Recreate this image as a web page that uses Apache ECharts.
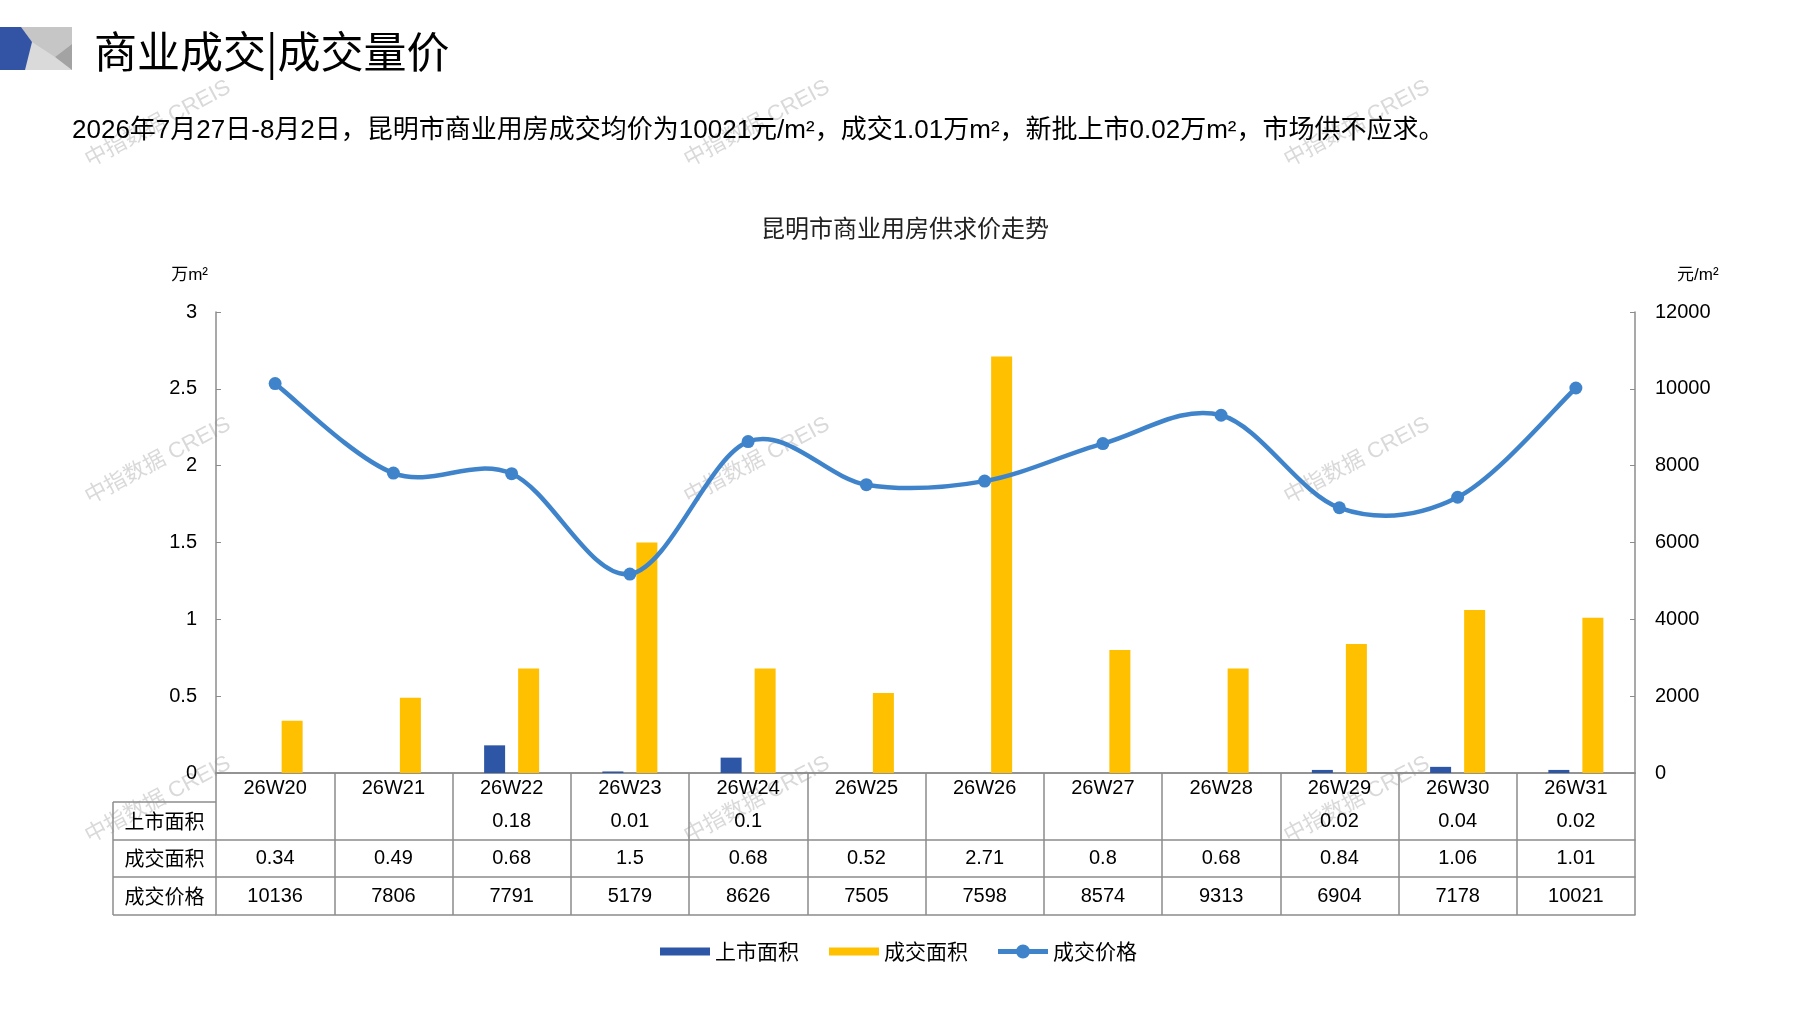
<!DOCTYPE html>
<html>
<head>
<meta charset="utf-8">
<script src="https://cdn.jsdelivr.net/npm/echarts@6/dist/echarts.min.js"></script>
<style>
html,body{margin:0;padding:0;background:#fff;}
#c{width:1797px;height:1010px;}
</style>
</head>
<body>
<div id="c"></div>
<script>
// ---- data ----
var categories = ['26W20','26W21','26W22','26W23','26W24','26W25','26W26','26W27','26W28','26W29','26W30','26W31'];
var supplyArea = [null, null, 0.18, 0.01, 0.1, null, null, null, null, 0.02, 0.04, 0.02];
var dealArea = [0.34, 0.49, 0.68, 1.5, 0.68, 0.52, 2.71, 0.8, 0.68, 0.84, 1.06, 1.01];
var dealPrice = [10136, 7806, 7791, 5179, 8626, 7505, 7598, 8574, 9313, 6904, 7178, 10021];
var seriesNames = ['上市面积', '成交面积', '成交价格'];
var leftTicks = [0, 0.5, 1, 1.5, 2, 2.5, 3];
var rightTicks = [0, 2000, 4000, 6000, 8000, 10000, 12000];

// ---- layout ----
var G = {left: 216, right: 162, top: 312, bottom: 237};
var H0 = 773, rowY = [802, 840, 877, 915], tableLeft = 113;
var NUM = "'Liberation Sans Narrow','Arial Narrow','Liberation Sans','Noto Sans CJK SC',sans-serif";
var CJK = "'Noto Sans CJK SC',sans-serif";
var lineColor = '#8C8C8C';
var priceColor = '#3F84CB';

function fmtRow(arr){ return function(v, i){ var x = arr[i]; return (x === null || x === undefined) ? '' : String(x); }; }

var chart = echarts.init(document.getElementById('c'), null, {renderer: 'canvas'});

function rowAxis(offset, margin, arr, showLabel){
  return {
    type: 'category', data: categories, gridIndex: 0, position: 'bottom', offset: offset,
    axisLine: {show: true, lineStyle: {color: lineColor, width: 1.5}},
    axisTick: {show: false}, splitLine: {show: false},
    axisLabel: {show: showLabel, interval: 0, margin: margin, fontSize: 20, color: '#000', fontFamily: NUM,
      formatter: arr ? fmtRow(arr) : undefined}
  };
}

var wm = [];
[[158,124],[757,124],[1357,124],[158,461],[757,461],[1357,461],[158,800],[757,800],[1357,800]].forEach(function(p){
  wm.push({type:'text', x:p[0], y:p[1], rotation:0.49, z:0, silent:true,
    style:{text:'中指数据 CREIS', fontSize:22, fontFamily:"'Liberation Sans','Noto Sans CJK SC',sans-serif",
      fill:'rgba(170,170,170,0.45)', align:'center', verticalAlign:'middle'}});
});

var tableGraphics = [];
rowY.forEach(function(y){
  tableGraphics.push({type:'line', silent:true, shape:{x1:tableLeft, y1:y, x2:G.left, y2:y}, style:{stroke:lineColor, lineWidth:1.5}});
});
tableGraphics.push({type:'line', silent:true, shape:{x1:tableLeft, y1:rowY[0], x2:tableLeft, y2:rowY[3]}, style:{stroke:lineColor, lineWidth:1.5}});
seriesNames.forEach(function(n, i){
  tableGraphics.push({type:'text', silent:true, x:(tableLeft+G.left)/2, y:(rowY[i]+rowY[i+1])/2,
    style:{text:n, fontSize:20, fontFamily:CJK, fill:'#000', align:'center', verticalAlign:'middle'}});
});

// smooth curve (Catmull-Rom style, like spreadsheet smoothing) drawn through the axes
function renderSegment(params, api){
  var i = params.dataIndex, n = dealPrice.length;
  if (i >= n - 1) return null;
  var i0 = Math.max(i - 1, 0), i3 = Math.min(i + 2, n - 1);
  var p0 = api.coord([i0, dealPrice[i0]]);
  var p1 = api.coord([i, dealPrice[i]]);
  var p2 = api.coord([i + 1, dealPrice[i + 1]]);
  var p3 = api.coord([i3, dealPrice[i3]]);
  var k = 1 / 6;
  return {
    type: 'bezierCurve',
    shape: {
      x1: p1[0], y1: p1[1], x2: p2[0], y2: p2[1],
      cpx1: p1[0] + (p2[0] - p0[0]) * k, cpy1: p1[1] + (p2[1] - p0[1]) * k,
      cpx2: p2[0] - (p3[0] - p1[0]) * k, cpy2: p2[1] - (p3[1] - p1[1]) * k
    },
    style: {stroke: priceColor, lineWidth: 4.5, fill: null, lineCap: 'round'}
  };
}

var option = {
  backgroundColor: '#fff',
  animation: false,
  title: [
    {text: '昆明市商业用房供求价走势', left: 900, top: 211, textAlign: 'center',
      textStyle: {fontSize: 24, fontWeight: 'normal', color: '#222', fontFamily: CJK}}
  ],
  graphic: wm.concat([
    {type:'rect', silent:true, shape:{x:20, y:27, width:52, height:43}, style:{fill:'#DADADA'}},
    {type:'polygon', silent:true, shape:{points:[[20,27],[72,27],[72,44],[55,57],[32,42]]}, style:{fill:'#C6C6C6'}},
    {type:'polygon', silent:true, shape:{points:[[72,44],[72,70],[55,57]]}, style:{fill:'#A3A3A3'}},
    {type:'polygon', silent:true, shape:{points:[[0,27],[21,27],[32,42],[25,70],[0,70]]}, style:{fill:'#3353A5'}},
    {type:'text', silent:true, x:94, y:52, style:{text:'商业成交|成交量价', fontSize:43, fontFamily:CJK, fill:'#000', verticalAlign:'middle'}},
    {type:'text', silent:true, x:72, y:131, style:{text:'2026年7月27日-8月2日，昆明市商业用房成交均价为10021元/m²，成交1.01万m²，新批上市0.02万m²，市场供不应求。', fontSize:26, fontFamily:NUM, fill:'#000', verticalAlign:'middle'}}
  ]).concat(tableGraphics),
  legend: {
    data: [
      {name: '上市面积', icon: 'path://M0,0H50V8H0Z'},
      {name: '成交面积', icon: 'path://M0,0H50V8H0Z'},
      {name: '成交价格', icon: 'path://M0,4.5H50V9.5H0Z M32,7A7,7 0 1 1 18,7A7,7 0 1 1 32,7Z'}
    ],
    left: 'center', top: 936, itemWidth: 50, itemHeight: 14, itemGap: 30, symbolKeepAspect: true,
    textStyle: {fontSize: 21, color: '#000', fontFamily: CJK}
  },
  grid: {left: G.left, right: G.right, top: G.top, bottom: G.bottom, containLabel: false},
  xAxis: [
    {
      type: 'category', data: categories, gridIndex: 0, position: 'bottom', offset: 0,
      axisLine: {show: true, lineStyle: {color: lineColor, width: 1.5}},
      axisTick: {show: true, alignWithLabel: false, interval: 0, length: rowY[3] - H0, lineStyle: {color: lineColor, width: 1.5}},
      axisLabel: {interval: 0, margin: 5, fontSize: 20, color: '#000', fontFamily: NUM}
    },
    rowAxis(rowY[0] - H0, 9, supplyArea, true),
    rowAxis(rowY[1] - H0, 8, dealArea, true),
    rowAxis(rowY[2] - H0, 9, dealPrice, true),
    rowAxis(rowY[3] - H0, 0, null, false)
  ],
  yAxis: [
    {
      type: 'value', min: leftTicks[0], max: leftTicks[leftTicks.length-1], interval: 0.5,
      name: '万m²', nameLocation: 'end', nameGap: 28,
      nameTextStyle: {fontSize: 17, color: '#000', fontFamily: NUM, align: 'right', padding: [0, 8, 0, 0]},
      axisLine: {show: true, lineStyle: {color: lineColor, width: 1.5}},
      axisTick: {show: true, inside: true, length: 5, lineStyle: {color: lineColor}},
      splitLine: {show: false},
      axisLabel: {margin: 19, fontSize: 20, color: '#000', fontFamily: NUM,
        formatter: function(v){ return String(v); }}
    },
    {
      type: 'value', min: rightTicks[0], max: rightTicks[rightTicks.length-1], interval: 2000,
      name: '元/m²', nameLocation: 'end', nameGap: 28,
      nameTextStyle: {fontSize: 17, color: '#000', fontFamily: NUM, align: 'left', padding: [0, 0, 0, 42]},
      axisLine: {show: true, lineStyle: {color: lineColor, width: 1.5}},
      axisTick: {show: true, inside: true, length: 5, lineStyle: {color: lineColor}},
      splitLine: {show: false},
      axisLabel: {margin: 20, fontSize: 20, color: '#000', fontFamily: NUM,
        formatter: function(v){ return String(v); }}
    }
  ],
  series: [
    {name: '上市面积', type: 'bar', xAxisIndex: 0, yAxisIndex: 0, data: supplyArea, barWidth: 21, barGap: '62%',
      itemStyle: {color: '#2E56A6'}},
    {name: '成交面积', type: 'bar', xAxisIndex: 0, yAxisIndex: 0, data: dealArea, barWidth: 21, barGap: '62%',
      itemStyle: {color: '#FFC000'}},
    {type: 'custom', xAxisIndex: 0, yAxisIndex: 1, z: 5, silent: true,
      data: dealPrice.map(function(v, i){ return [i, v]; }),
      encode: {x: 0, y: 1}, renderItem: renderSegment},
    {name: '成交价格', type: 'line', xAxisIndex: 0, yAxisIndex: 1, data: dealPrice, smooth: false,
      symbol: 'circle', symbolSize: 13, z: 6,
      lineStyle: {color: priceColor, width: 0, opacity: 0}, itemStyle: {color: priceColor}}
  ]
};
chart.setOption(option);
</script>
</body>
</html>
